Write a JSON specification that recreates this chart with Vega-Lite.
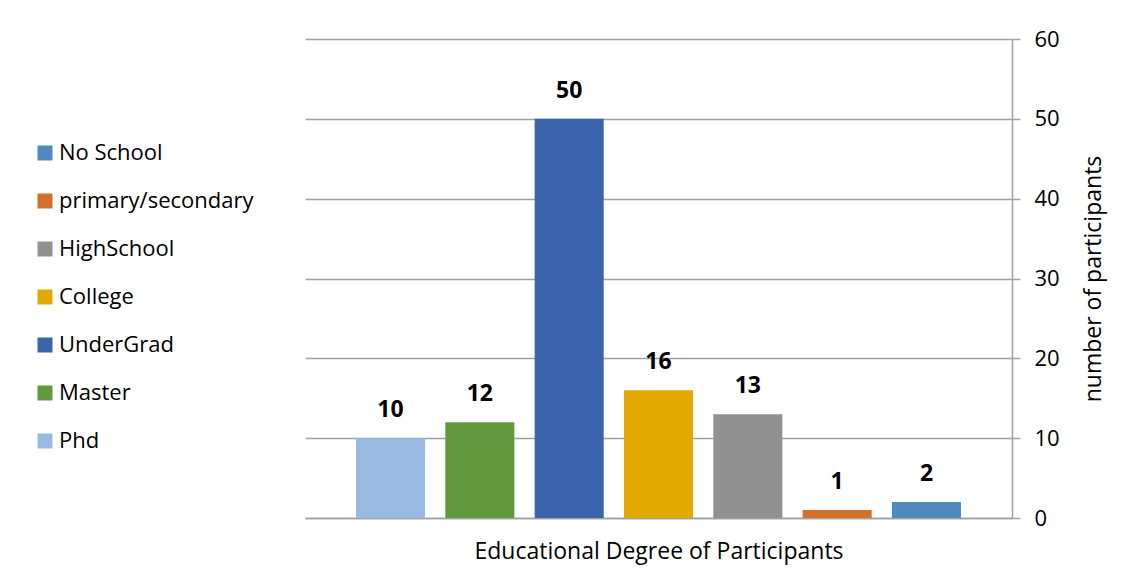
{
  "$schema": "https://vega.github.io/schema/vega-lite/v6.json",
  "autosize": {"type": "none"},
  "padding": {"left": 305, "top": 39, "right": 124, "bottom": 61},
  "width": 707,
  "height": 479,
  "background": "white",
  "config": {
    "font": "Open Sans",
    "view": {"stroke": null},
    "axis": {"labelFont": "Open Sans", "titleFont": "Open Sans", "labelColor": "#000000", "titleColor": "#000000", "titleFontWeight": "normal"},
    "legend": {"labelFont": "Open Sans"}
  },
  "data": {
    "values": [
      {"degree": "Phd", "count": 10},
      {"degree": "Master", "count": 12},
      {"degree": "UnderGrad", "count": 50},
      {"degree": "College", "count": 16},
      {"degree": "HighSchool", "count": 13},
      {"degree": "primary/secondary", "count": 1},
      {"degree": "No School", "count": 2}
    ]
  },
  "encoding": {
    "x": {
      "field": "degree",
      "type": "nominal",
      "sort": ["Phd", "Master", "UnderGrad", "College", "HighSchool", "primary/secondary", "No School"],
      "scale": {"paddingInner": 0.227, "paddingOuter": 0.571},
      "axis": {
        "title": "Educational Degree of Participants",
        "titleFontSize": 23,
        "titlePadding": 22,
        "labels": false,
        "ticks": false,
        "domainColor": "#a0a0a0",
        "domainWidth": 1.5
      }
    },
    "y": {
      "field": "count",
      "type": "quantitative",
      "scale": {"domain": [0, 60], "nice": false},
      "axis": {
        "orient": "right",
        "values": [0, 10, 20, 30, 40, 50, 60],
        "title": "number of participants",
        "titleFontSize": 23,
        "titleAngle": 270,
        "titleX": 81,
        "titleY": 239.5,
        "titleAlign": "center",
        "titleBaseline": "middle",
        "labelFontSize": 22,
        "labelPadding": 14,
        "tickSize": 8,
        "tickColor": "#a0a0a0",
        "tickWidth": 1.5,
        "domainColor": "#a0a0a0",
        "domainWidth": 1.5,
        "gridColor": "#a0a0a0",
        "gridWidth": 1.5
      }
    }
  },
  "layer": [
    {
      "mark": {"type": "bar"},
      "encoding": {
        "color": {
          "field": "degree",
          "type": "nominal",
          "scale": {
            "domain": ["No School", "primary/secondary", "HighSchool", "College", "UnderGrad", "Master", "Phd"],
            "range": ["#4f89bd", "#d2702c", "#919191", "#e2aa00", "#3c64ad", "#62993e", "#98b9e0"]
          },
          "legend": {
            "title": null,
            "orient": "none",
            "legendX": -271,
            "legendY": 103,
            "symbolType": "square",
            "symbolSize": 225,
            "symbolStrokeWidth": 0,
            "labelFontSize": 22,
            "labelColor": "#000000",
            "labelLimit": 400,
            "labelOffset": 3,
            "rowPadding": 26
          }
        }
      }
    },
    {
      "mark": {"type": "text", "baseline": "bottom", "dy": -16, "fontSize": 23, "fontWeight": "bold", "color": "#000000", "font": "Open Sans"},
      "encoding": {
        "text": {"field": "count", "type": "quantitative"}
      }
    }
  ]
}
